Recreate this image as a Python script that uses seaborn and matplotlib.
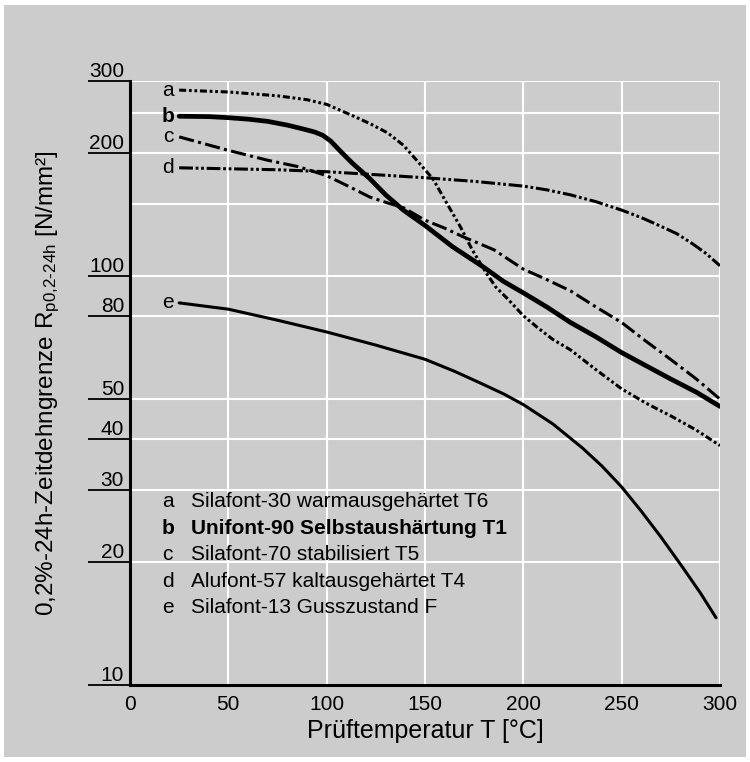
import numpy as np
import pandas as pd
import seaborn as sns
import matplotlib.pyplot as plt
import matplotlib.patches as mpatches
from matplotlib.ticker import FixedLocator, NullFormatter

# curve data (T in degC, R in N/mm2)
t_a = [25, 50, 75, 90, 100, 113, 122, 131, 139, 147, 154, 161, 168, 174, 181, 186, 192, 200, 207,
       215, 224, 237, 250, 262, 275, 288, 300]
r_a = [285, 282, 276, 270, 263, 247, 236, 224, 209, 189, 173, 151, 132, 116, 102, 94, 88, 80, 75,
       70, 66, 59, 53, 49, 45.5, 42, 38.5]

t_b = [25, 40, 50, 60, 70, 80, 88, 94, 98, 102, 107, 113, 122, 130, 139, 150, 164, 180, 190, 200,
       212, 224, 237, 250, 262, 275, 288, 300]
r_b = [246, 245.5, 244, 242, 239, 234, 229, 225, 221, 214, 202, 189, 173, 158, 145, 133, 118, 105,
       97, 91, 84, 77, 71, 65, 60.5, 56, 52, 48]

t_c = [25, 50, 70, 86, 100, 112, 122, 131, 139, 150, 160, 169, 185, 200, 212, 224, 237, 250, 262,
       275, 288, 300]
r_c = [219, 203, 192, 185, 176, 165, 156, 151, 147, 137, 131, 125, 116, 104, 98, 92, 84, 77, 69.5,
       62.5, 56, 50]

t_d = [25, 50, 75, 100, 125, 150, 175, 200, 212, 224, 237, 250, 260, 269, 278, 286, 293, 300]
r_d = [184, 183, 182, 180, 177, 174, 170.5, 166, 162.5, 158, 152, 145, 139, 133, 127, 120, 113.5,
       106]

t_e = [25, 50, 75, 100, 125, 150, 165, 178, 190, 200, 215, 230, 240, 250, 260, 270, 281, 290, 298]
r_e = [86, 83, 78, 73, 67.8, 62.6, 58.5, 54.8, 51.5, 48.5, 43.5, 38, 34.3, 30.5, 26.6, 23, 19.4,
       16.8, 14.6]

letters = ['a', 'b', 'c', 'd', 'e']
names = ['Silafont-30 warmausgehärtet T6',
         'Unifont-90 Selbstaushärtung T1',
         'Silafont-70 stabilisiert T5',
         'Alufont-57 kaltausgehärtet T4',
         'Silafont-13 Gusszustand F']

y_tick_vals = [10, 20, 30, 40, 50, 80, 100, 200, 300]
y_minor_vals = [150, 250]
x_tick_vals = [0, 50, 100, 150, 200, 250, 300]

bg = '#cccccc'

sns.set_style('white')
plt.rcParams['font.family'] = ['Liberation Sans', 'DejaVu Sans']
plt.rcParams['mathtext.fontset'] = 'custom'
plt.rcParams['mathtext.rm'] = 'Liberation Sans'
plt.rcParams['mathtext.default'] = 'regular'
plt.rcParams['text.color'] = 'black'
plt.rcParams['axes.labelcolor'] = 'black'
plt.rcParams['xtick.color'] = 'black'
plt.rcParams['ytick.color'] = 'black'

fig = plt.figure(figsize=(7.5, 7.62), dpi=100, facecolor='white')
fig.patches.append(mpatches.Rectangle((4 / 750, 5 / 762), 742 / 750, 752 / 762,
                                      transform=fig.transFigure, facecolor=bg,
                                      edgecolor='none', zorder=-10))
ax = fig.add_axes([130 / 750, 77 / 762, 590 / 750, 604 / 762])
ax.set_facecolor(bg)

curves = [(t_a, r_a), (t_b, r_b), (t_c, r_c), (t_d, r_d), (t_e, r_e)]
styles = [(0, (2.3, 0.9, 0.9, 0.9, 0.9, 0.9)),
          '-',
          (0, (5, 1.4, 1, 1.4)),
          (0, (4.5, 0.9, 0.9, 0.9, 0.9, 0.9)),
          '-']
widths = [2.2, 3.4, 2.2, 2.2, 2.2]

for (tt, rr), ls, lw, let in zip(curves, styles, widths, letters):
    df = pd.DataFrame({'T': tt, 'R': rr})
    sns.lineplot(data=df, x='T', y='R', ax=ax, color='black', linewidth=lw,
                 linestyle=ls, estimator=None, sort=False)
    ax.text(19.5, rr[0], let, ha='center', va='center', fontsize=15,
            fontweight='bold' if let == 'b' else 'normal')

ax.set_yscale('log')
ax.set_xlim(0, 300)
ax.set_ylim(10, 300)

ax.yaxis.set_major_locator(FixedLocator(y_tick_vals))
ax.yaxis.set_minor_locator(FixedLocator(y_minor_vals))
ax.yaxis.set_major_formatter(NullFormatter())
ax.yaxis.set_minor_formatter(NullFormatter())
ax.tick_params(axis='y', which='major', left=True, length=30, width=1.3,
               color='black', direction='out')
ax.tick_params(axis='y', which='minor', left=False, length=0)
ax.set_xticks(x_tick_vals)
ax.set_xticklabels([str(v) for v in x_tick_vals])
ax.tick_params(axis='x', length=0, pad=7, labelsize=15)

ax.set_axisbelow(True)
ax.grid(True, which='both', color='white', linewidth=1.5)

for v in y_tick_vals:
    ax.text(-0.01, v, str(v), transform=ax.get_yaxis_transform(), ha='right',
            va='bottom', fontsize=15)

for s in ['top', 'right']:
    ax.spines[s].set_visible(False)
for s in ['left', 'bottom']:
    ax.spines[s].set_color('black')
    ax.spines[s].set_linewidth(2.2)

# legend block
y0 = 0.303
for i, (let, name) in enumerate(zip(letters, names)):
    fw = 'bold' if let == 'b' else 'normal'
    ax.text(0.064, y0 - i * 0.0438, let, transform=ax.transAxes, ha='center',
            va='center', fontsize=15, fontweight=fw)
    ax.text(0.103, y0 - i * 0.0438, name, transform=ax.transAxes, ha='left',
            va='center', fontsize=15, fontweight=fw)

ax.set_xlabel('Prüftemperatur T [°C]', fontsize=18, labelpad=4)
ax.set_ylabel('0,2%-24h-Zeitdehngrenze R$_{p0{,}2\u201024h}$ [N/mm²]', fontsize=17.5)
ax.yaxis.set_label_coords(-0.115, 0.5)

fig.savefig('out.png', dpi=100, facecolor='white')
